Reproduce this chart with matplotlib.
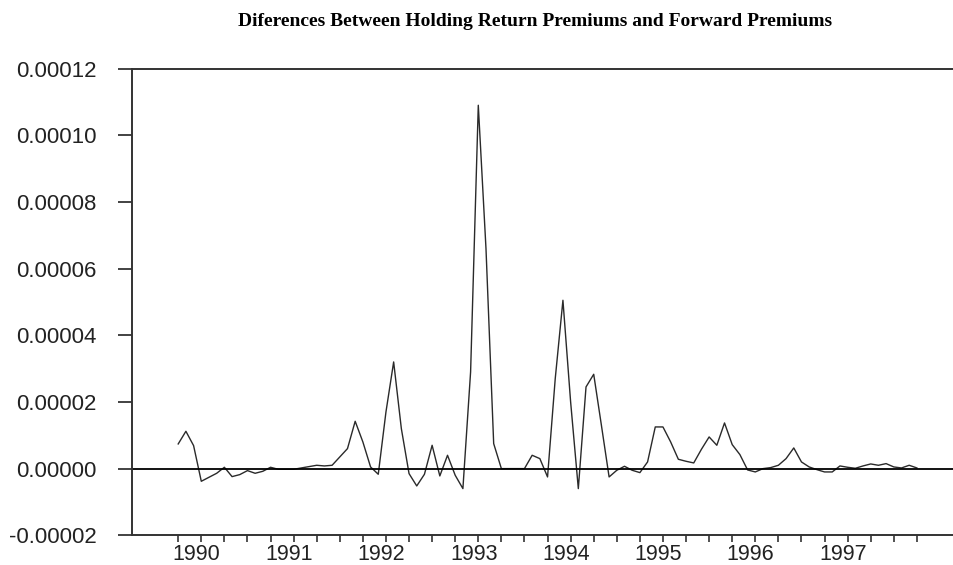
import numpy as np
import matplotlib
matplotlib.use("Agg")
import matplotlib.pyplot as plt

# monthly observations, 1989:10 - 1997:10 (units of 1e-5)
start_year, start_month = 1989, 10
diff_e5 = [
    0.74, 1.12, 0.69, -0.38, -0.26, -0.14, 0.04, -0.24, -0.18, -0.06,
    -0.14, -0.08, 0.04, -0.02, -0.02, -0.02, 0.02, 0.06, 0.10, 0.08,
    0.10, 0.35, 0.60, 1.42, 0.80, 0.05, -0.17, 1.70, 3.20, 1.20,
    -0.15, -0.52, -0.17, 0.70, -0.22, 0.40, -0.20, -0.60, 2.90, 10.90,
    6.60, 0.75, 0.00, 0.00, 0.00, 0.00, 0.40, 0.30, -0.25, 2.70,
    5.05, 2.00, -0.60, 2.45, 2.83, 1.30, -0.25, -0.05, 0.07, -0.05,
    -0.12, 0.20, 1.25, 1.25, 0.80, 0.28, 0.22, 0.17, 0.58, 0.95,
    0.70, 1.37, 0.72, 0.42, -0.04, -0.10, 0.00, 0.03, 0.10, 0.30,
    0.62, 0.20, 0.05, -0.03, -0.10, -0.10, 0.08, 0.04, 0.01, 0.08,
    0.14, 0.10, 0.15, 0.05, 0.02, 0.10, 0.02,
]
year_labels = ["1990", "1991", "1992", "1993", "1994", "1995", "1996", "1997"]
y_ticks = [-0.00002, 0.0, 0.00002, 0.00004, 0.00006, 0.00008, 0.00010, 0.00012]
title = "Diferences Between Holding Return Premiums and Forward Premiums"

values = np.array(diff_e5) * 1e-5
months = np.arange(len(values))
# month index of each January
year_pos = np.array([(int(y) - start_year) * 12 + (1 - start_month) for y in year_labels])

fig = plt.figure(figsize=(9.54, 5.65), dpi=100, facecolor="white")
ax = fig.add_axes([0.138, 0.0526, 0.861, 0.826])

ax.plot(months, values, color="#2a2a2a", lw=1.0)
ax.axhline(0, color="black", lw=1.3)

ax.set_xlim(-6.05, 100.7)
ax.set_ylim(-0.00002, 0.00012)

ax.set_yticks(y_ticks)
ax.set_yticklabels([f"{v:.5f}" for v in y_ticks])

# quarterly tick marks; year labels sit a bit left of their January tick
ax.set_xticks(year_pos - 0.6)
ax.set_xticklabels(year_labels)
ax.set_xticks(np.arange(0, len(values), 3), minor=True)

ax.tick_params(axis="y", direction="out", length=10, width=1.2, pad=15,
               labelsize=16, colors="#222222")
ax.tick_params(axis="x", which="major", length=0, pad=6,
               labelsize=15.5, colors="#222222")
ax.tick_params(axis="x", which="minor", direction="out", length=5, width=1.2,
               colors="#333333")
for lab in ax.get_xticklabels() + ax.get_yticklabels():
    lab.set_family("Liberation Sans")

for side in ["top", "left", "bottom"]:
    ax.spines[side].set_color("#333333")
    ax.spines[side].set_linewidth(1.4)
ax.spines["right"].set_visible(False)

fig.text(535 / 954, 1 - 22 / 565, title, ha="center", va="center",
         family="Liberation Serif", weight="bold", fontsize=14)

fig.savefig("out.png", dpi=100, facecolor="white")
